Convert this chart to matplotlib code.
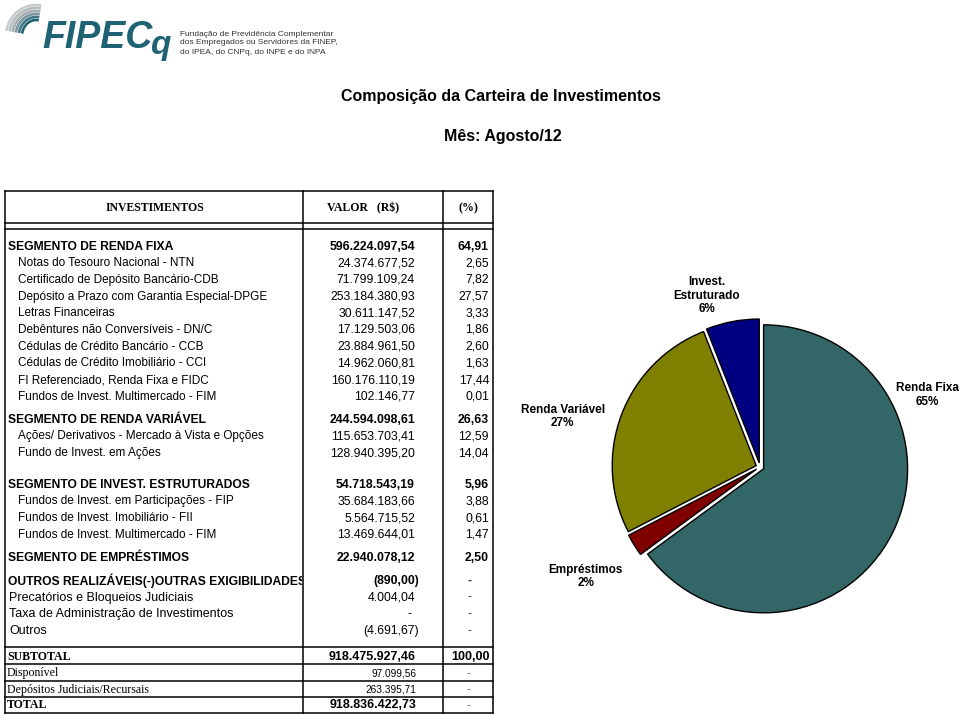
import matplotlib
matplotlib.use('Agg')
import matplotlib.pyplot as plt
from matplotlib.patches import Arc
from matplotlib.transforms import Bbox, TransformedBbox

# ---- dados da tabela ----
itens = [
    "SEGMENTO DE RENDA FIXA",
    "Notas do Tesouro Nacional - NTN",
    "Certificado de Depósito Bancário-CDB",
    "Depósito a Prazo com Garantia Especial-DPGE",
    "Letras Financeiras",
    "Debêntures não Conversíveis - DN/C",
    "Cédulas de Crédito Bancário - CCB",
    "Cédulas de Crédito Imobiliário - CCI",
    "FI Referenciado, Renda Fixa e FIDC",
    "Fundos de Invest. Multimercado - FIM",
    "SEGMENTO DE RENDA VARIÁVEL",
    "Ações/ Derivativos - Mercado à Vista e Opções",
    "Fundo de Invest. em Ações",
    "SEGMENTO DE INVEST. ESTRUTURADOS",
    "Fundos de Invest. em Participações - FIP",
    "Fundos de Invest. Imobiliário - FII",
    "Fundos de Invest. Multimercado - FIM",
    "SEGMENTO DE EMPRÉSTIMOS",
    "OUTROS REALIZÁVEIS(-)OUTRAS EXIGIBILIDADES",
    "Precatórios e Bloqueios Judiciais",
    "Taxa de Administração de Investimentos",
    "Outros",
]
valores = [
    "596.224.097,54", "24.374.677,52", "71.799.109,24", "253.184.380,93",
    "30.611.147,52", "17.129.503,06", "23.884.961,50", "14.962.060,81",
    "160.176.110,19", "102.146,77", "244.594.098,61", "115.653.703,41",
    "128.940.395,20", "54.718.543,19", "35.684.183,66", "5.564.715,52",
    "13.469.644,01", "22.940.078,12", "(890,00)", "4.004,04", "-", "(4.691,67)",
]
percentuais = [
    "64,91", "2,65", "7,82", "27,57", "3,33", "1,86", "2,60", "1,63",
    "17,44", "0,01", "26,63", "12,59", "14,04", "5,96", "3,88", "0,61",
    "1,47", "2,50", "-", "-", "-", "-",
]
# tipo de linha: s = segmento, i = item, o = outros
tipos = ['s', 'i', 'i', 'i', 'i', 'i', 'i', 'i', 'i', 'i',
         's', 'i', 'i', 's', 'i', 'i', 'i', 's', 's', 'o', 'o', 'o']

rodape_itens = ["SUBTOTAL", "Disponível", "Depósitos Judiciais/Recursais", "TOTAL"]
rodape_valores = ["918.475.927,46", "97.099,56", "263.395,71", "918.836.422,73"]
rodape_pct = ["100,00", "-", "-", "-"]

# ---- dados do gráfico ----
segmentos = ["Renda Fixa", "Empréstimos", "Renda Variável", "Invest.\nEstruturado"]
seg_pct = [64.91, 2.50, 26.63, 5.96]
cores = ['#336666', '#800000', '#808000', '#000080']
# posição dos rótulos (em raios, relativo ao centro)
pos_rotulos = [(1.16, 0.50), (-1.21, -0.76), (-1.37, 0.35), (-0.37, 1.19)]

SANS = 'Liberation Sans'
SERIF = 'Liberation Serif'

fig = plt.figure(figsize=(9.59, 7.16), dpi=100)
ax = fig.add_axes([0, 0, 1, 1])
ax.set_xlim(0, 959)
ax.set_ylim(716, 0)
ax.axis('off')

# ---- logotipo ----
teal = '#1e6273'
faixas = ['#c8cccc', '#b6bcbe', '#a3adb0', '#7896a0', '#417585', '#1e6273']
for k, c in enumerate(faixas):
    arc = Arc((36, 36), 2 * (30 - k * 3.2), 2 * (31 - k * 3.0), theta1=190, theta2=280,
              color=c, lw=1.9, transform=ax.transData)
    ax.add_patch(arc)
ax.text(42, 48, "FIPEC", fontsize=27, fontweight='bold', style='italic',
        color=teal, family=SANS, va='baseline')
ax.text(150, 54, "q", fontsize=24, fontweight='bold', style='italic',
        color=teal, family=SANS, va='baseline')
for k, t in enumerate(["Fundação de Previdência Complementar",
                       "dos Empregados ou Servidores da FINEP,",
                       "do IPEA, do CNPq, do INPE e do INPA"]):
    ax.text(180, 34 + k * 9, t, fontsize=6.0, color='#333333', family=SANS,
            va='center')

# ---- títulos ----
ax.text(501, 97, "Composição da Carteira de Investimentos", fontsize=11.5,
        fontweight='bold', family=SANS, ha='center', va='center')
ax.text(503, 136, "Mês: Agosto/12", fontsize=11.5, fontweight='bold',
        family=SANS, ha='center', va='center')

# ---- estrutura da tabela ----
x_esq, x_c1, x_c2, x_dir = 5, 303, 443, 493
lw = 1.1
for x in [x_esq, x_c1, x_c2, x_dir]:
    ax.plot([x, x], [191, 713], color='black', lw=lw)
for y in [191, 223, 229, 647, 664, 681, 697, 713]:
    ax.plot([x_esq, x_dir], [y, y], color='black', lw=lw)

ax.text(155, 208, "INVESTIMENTOS", fontsize=8.5, fontweight='bold', family=SERIF,
        ha='center', va='center')
ax.text(363, 208, "VALOR   (R$)", fontsize=8.5, fontweight='bold', family=SERIF,
        ha='center', va='center')
ax.text(468, 208, "(%)", fontsize=8.5, fontweight='bold', family=SERIF,
        ha='center', va='center')

caixa = TransformedBbox(Bbox([[x_esq, 0], [x_c1 - 1, 716]]), ax.transData)

passo = 16.7
y = 246.5
for n, (nome, val, pct, tp) in enumerate(zip(itens, valores, percentuais, tipos)):
    if n > 0:
        y += passo
        if tp == 's':
            y += 6.3
        if nome.startswith("SEGMENTO DE INVEST"):
            y += 8.5
    peso = 'bold' if tp == 's' else 'normal'
    if tp == 's':
        xl, fs = 8, 8.7
    elif tp == 'i':
        xl, fs = 18, 8.5
    else:
        xl, fs = 9, 9
    t = ax.text(xl, y, nome, fontsize=fs, fontweight=peso, family=SANS, va='center')
    t.set_clip_box(caixa)
    t.set_clip_on(True)
    xv = 419 if val.endswith(')') else 415
    if val == '-':
        ax.text(410, y, val, fontsize=9, family=SANS, ha='center', va='center')
    else:
        ax.text(xv, y, val, fontsize=8.8, fontweight=peso, family=SANS,
                ha='right', va='center')
    if pct == '-':
        ax.text(470, y, pct, fontsize=9, fontweight=peso, family=SANS,
                ha='center', va='center', color='#333333')
    else:
        ax.text(489, y, pct, fontsize=8.8, fontweight=peso, family=SANS,
                ha='right', va='center')

y_rod = [656.5, 673, 689.5, 705.5]
for n, (nome, val, pct) in enumerate(zip(rodape_itens, rodape_valores, rodape_pct)):
    forte = nome in ("SUBTOTAL", "TOTAL")
    peso = 'bold' if forte else 'normal'
    ax.text(7, y_rod[n], nome, fontsize=8.6, fontweight=peso, family=SERIF,
            va='center')
    ax.text(416, y_rod[n], val, fontsize=9 if forte else 7.3, fontweight=peso,
            family=SANS, ha='right', va='center')
    if pct == '-':
        ax.text(468, y_rod[n], pct, fontsize=7.5, family=SANS, ha='center',
                va='center', color='#555555')
    else:
        ax.text(490, y_rod[n], pct, fontsize=9, fontweight=peso, family=SANS,
                ha='right', va='center')

# ---- gráfico de pizza ----
cx, cy, r = 760, 467, 144
meio = r * 1.1
axp = fig.add_axes([(cx - meio) / 959, (716 - cy - meio) / 716,
                    2 * meio / 959, 2 * meio / 716])
axp.pie(seg_pct, colors=cores, startangle=90, counterclock=False,
        explode=[0.028] * len(seg_pct),
        wedgeprops=dict(edgecolor='black', linewidth=1.0))
axp.set_xlim(-1.1, 1.1)
axp.set_ylim(-1.1, 1.1)
axp.axis('off')
for nome, p, (px, py) in zip(segmentos, seg_pct, pos_rotulos):
    axp.text(px, py, f"{nome}\n{p:.0f}%", fontsize=8.5, fontweight='bold',
             family=SANS, ha='center', va='center', clip_on=False)

fig.savefig('out.png', dpi=100)
